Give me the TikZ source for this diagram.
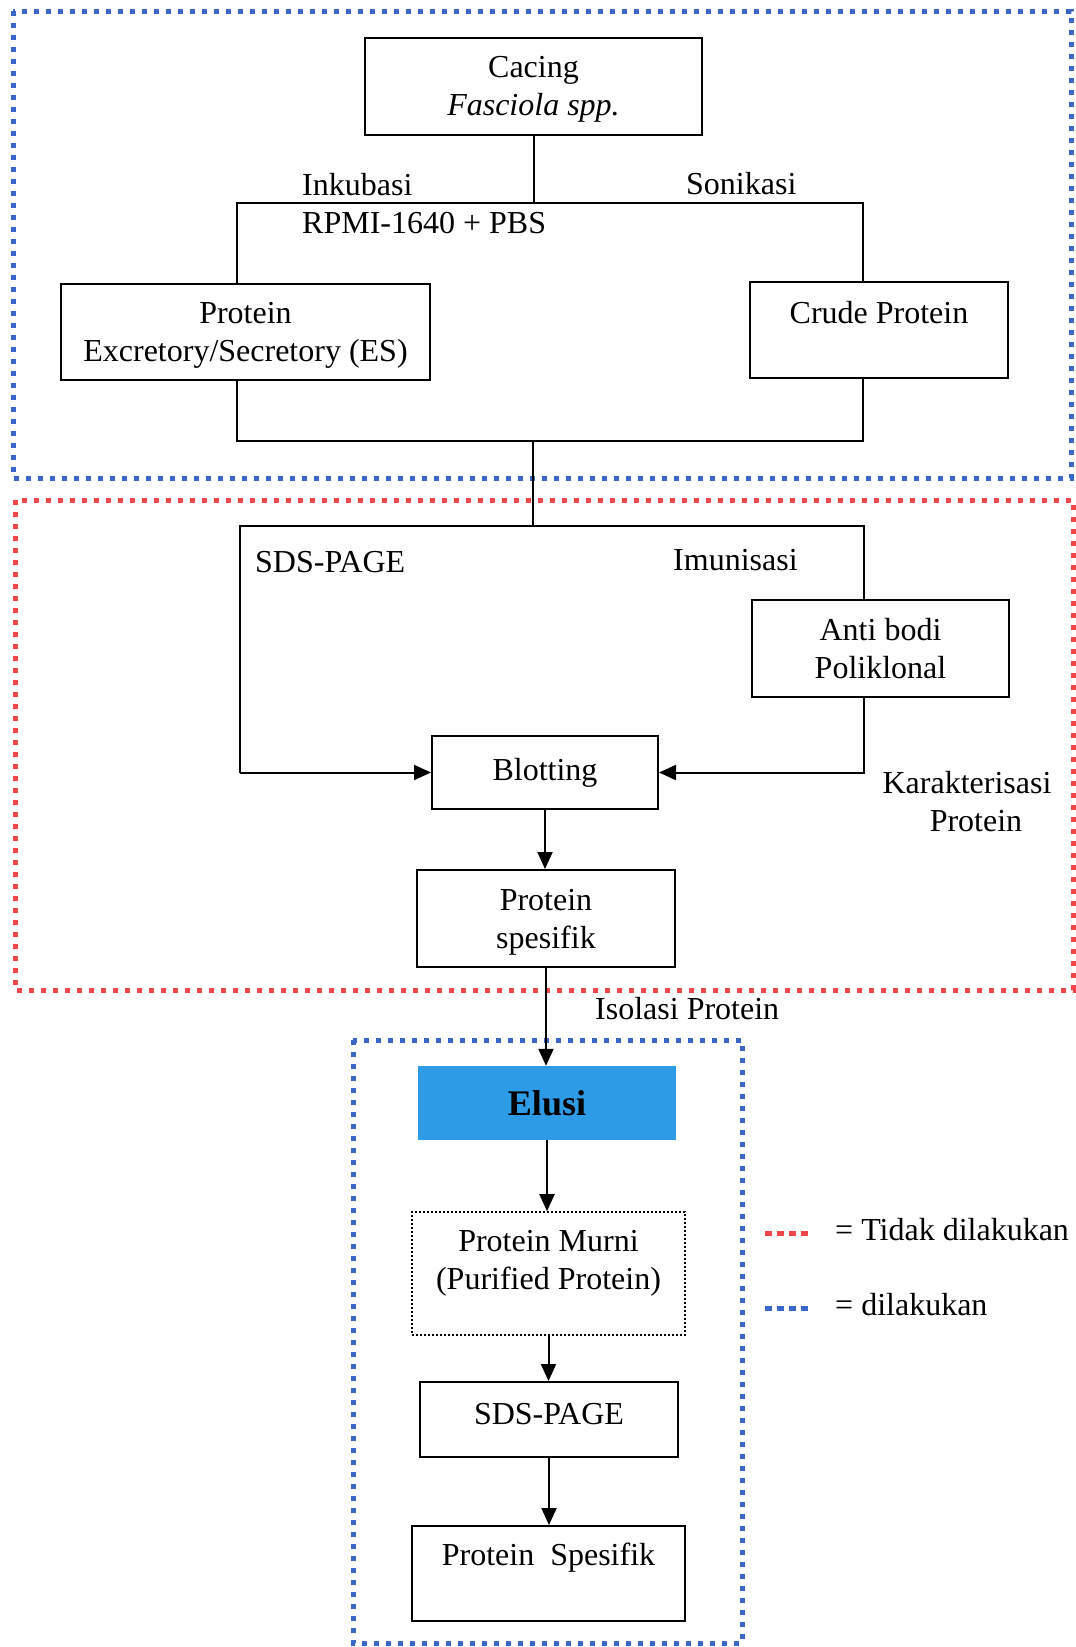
\documentclass[tikz,border=0pt]{standalone}
\usepackage{fontspec}
\setmainfont{Liberation Serif}
\usetikzlibrary{arrows.meta}
\definecolor{dotblue}{RGB}{58,102,200}
\definecolor{dotred}{RGB}{240,72,72}
\definecolor{elusiblue}{RGB}{46,155,230}
\tikzset{
  txt/.style={font=\fontsize{32}{38}\selectfont, align=center, inner sep=0pt},
  box/.style={draw=black, line width=2pt, inner sep=0pt, txt},
  conn/.style={draw=black, line width=2pt},
  arr/.style={conn, -{Triangle[length=17pt,width=15pt]}},
  bluezone/.style={draw=dotblue, line width=5pt, dash pattern=on 5pt off 7pt},
  redzone/.style={draw=dotred, line width=5pt, dash pattern=on 5pt off 7pt},
  lbl/.style={txt, anchor=base west}
}
\begin{document}
\begin{tikzpicture}[x=1pt,y=-1pt]
\useasboundingbox (0,0) rectangle (1076,1647);
\fill[white] (0,0) rectangle (1076,1647);

% zones
\draw[bluezone] (13,11) rectangle (1071,478);
\draw[redzone] (15,500) rectangle (1073,990);
\draw[bluezone] (353,1040) rectangle (742,1643);

% boxes
\node[box, minimum width=337pt, minimum height=97pt] (cacing) at (533.5,86.5) {};
\node[txt] (cacingt) at ([yshift=-3pt]cacing.center) {Cacing\\\textit{Fasciola spp.}};
\node[box, minimum width=369pt, minimum height=96pt] (es) at (245.5,332) {};
\node[txt] (est) at ([yshift=-3pt]es.center) {Protein\\Excretory/Secretory (ES)};
\node[box, minimum width=258pt, minimum height=96pt] (crude) at (879,330) {};
\node[txt] (crudet) at ([yshift=17pt]crude.center) {Crude Protein};
\node[box, minimum width=257pt, minimum height=97pt] (anti) at (880.5,648.5) {Anti bodi\\Poliklonal};
\node[box, minimum width=226pt, minimum height=73pt] (blot) at (545,772.5) {Blotting};
\node[box, minimum width=258pt, minimum height=97pt] (spes) at (546,918.5) {};
\node[txt] (spest) at ([yshift=-4pt]spes.center) {Protein\\spesifik};
\node[txt, fill=elusiblue, minimum width=258pt, minimum height=74pt, font=\fontsize{36}{40}\selectfont\bfseries] (elusi) at (547,1103) {Elusi};
\node[box, dotted, line width=1.6pt, minimum width=273pt, minimum height=123pt] (murni) at (548.5,1273.5) {};
\node[txt] (murnit) at ([yshift=10pt]murni.center) {Protein Murni\\(Purified Protein)};
\node[box, minimum width=258pt, minimum height=75pt] (sds) at (549,1419.5) {};
\node[txt] (sdst) at ([yshift=5pt]sds.center) {SDS-PAGE};
\node[box, minimum width=273pt, minimum height=95pt] (pspes) at (548.5,1573.5) {};
\node[txt] (pspest) at ([yshift=16pt]pspes.center) {Protein\ \ Spesifik};

% labels
\node[lbl] (inkubasi) at (302,195) {Inkubasi};
\node[lbl] (rpmi) at (302,233) {RPMI-1640 + PBS};
\node[lbl] (sonikasi) at (686,194) {Sonikasi};
\node[lbl] (sdslbl) at (255,572) {SDS-PAGE};
\node[lbl] (imun) at (673,570) {Imunisasi};
\node[txt] (karak) at (967,802) {Karakterisasi\\\hspace*{18pt}Protein};
\node[lbl] (isolasi) at (595,1019) {Isolasi Protein};

% connector points
\coordinate (jL) at (237,203);
\coordinate (jR) at (863,203);
\coordinate (bL) at (237,441);
\coordinate (bR) at (863,441);
\coordinate (bM) at (533,441);
\coordinate (cM) at (533,526);
\coordinate (cL) at (240,526);
\coordinate (cR) at (864,526);

% connectors
\draw[conn] (cacing.south) -- (cacing.south |- jL);
\draw[conn] (es.north -| jL) -- (jL) -- (jR) -- (crude.north -| jR);
\draw[conn] (es.south -| bL) -- (bL) -- (bR) -- (crude.south -| bR);
\draw[conn] (bM) -- (cM);
\draw[conn] (anti.north -| cR) -- (cR) -- (cL) -- (cL |- blot.west);
\draw[arr] (cL |- blot.west) -- (blot.west);
\draw[arr] (anti.south -| cR) -- (cR |- blot.east) -- (blot.east);
\draw[arr] (blot.south) -- (blot.south |- spes.north);
\draw[arr] (spes.south) -- (spes.south |- elusi.north);
\draw[arr] (elusi.south) -- (elusi.south |- murni.north);
\draw[arr] (murni.south) -- (murni.south |- sds.north);
\draw[arr] (sds.south) -- (sds.south |- pspes.north);

% legend
\coordinate (lr1) at (765,1233);
\coordinate (lr2) at (810,1233);
\coordinate (lb1) at (765,1308);
\coordinate (lb2) at (810,1308);
\draw[draw=dotred, line width=5pt, dash pattern=on 7pt off 5pt] (lr1) -- (lr2);
\draw[draw=dotblue, line width=5pt, dash pattern=on 7pt off 5pt] (lb1) -- (lb2);
\node[lbl] (leg1) at (835,1240) {= Tidak dilakukan};
\node[lbl] (leg2) at (835,1315) {= dilakukan};
\end{tikzpicture}
\end{document}
